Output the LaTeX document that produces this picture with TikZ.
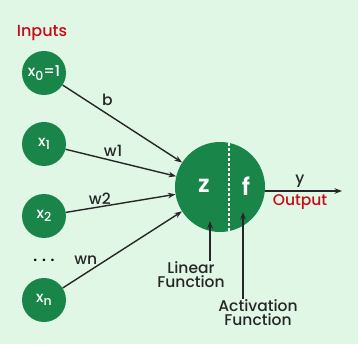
\documentclass[tikz,border=0pt]{standalone}
\usepackage{fontspec}
\setmainfont{Poppins Medium}[BoldFont={Poppins SemiBold}]
\usetikzlibrary{arrows.meta}
\definecolor{gfgreen}{RGB}{25,133,72}
\definecolor{mint}{RGB}{224,247,230}
\definecolor{labred}{RGB}{200,10,20}
\newcommand{\lowidx}[1]{\raisebox{-0.45ex}{\fontsize{12.5}{12.5}\selectfont #1}}
\tikzset{
  inp/.style={circle, fill=gfgreen, minimum size=44pt, inner sep=0pt, text=white, font=\fontsize{15}{16}\selectfont},
  wire/.style={-{Stealth[length=7.5pt,width=5.5pt]}, line width=1.4pt, draw=black!85},
  lbl/.style={font=\fontsize{15.5}{17}\selectfont, text=black!85}
}
\begin{document}
\begin{tikzpicture}[x=1pt, y=-1pt]
  \fill[mint] (0,0) rectangle (358,344);
  \useasboundingbox (0,0) rectangle (358,344);
  % inputs
  \node[labred, font=\fontsize{16}{18}\selectfont] (inputs) at (42,33) {Inputs};
  \node[inp] (x0) at (44,73) {x\lowidx{0}=1};
  \node[inp] (x1) at (44,144) {x\lowidx{1}};
  \node[inp] (x2) at (44,216) {x\lowidx{2}};
  \node[font=\bfseries\fontsize{15}{16}\selectfont] (dots) at (44,260) {. . .};
  \node[inp] (xn) at (44,300) {x\lowidx{n}};
  % neuron
  \node[circle, fill=gfgreen, minimum size=90pt, inner sep=0pt] (neuron) at (220,187) {};
  \draw[white, line width=1.2pt, dash pattern=on 3pt off 2pt] (229,143) -- (229,231);
  \node[text=white, font=\fontsize{24}{26}\selectfont\bfseries] (z) at (204,186) {z};
  \node[text=white, font=\fontsize{24}{26}\selectfont\bfseries] (f) at (246,186) {f};
  % weights
  \draw[wire] (x0) -- (neuron) node[lbl, pos=0.375, above=4pt] {b};
  \draw[wire] (x1) -- (neuron) node[lbl, pos=0.43, above=0pt] {w1};
  \draw[wire] (x2) -- (neuron) node[lbl, pos=0.31, above=-2pt] {w2};
  \draw[wire] (xn) -- (neuron) node[lbl, pos=0.34, left=2pt, yshift=2pt] {wn};
  % output
  \coordinate (out) at (342,191);
  \draw[wire] (neuron.east |- out) -- (out) node[lbl, pos=0.45, above=-1pt] {y};
  \node[labred, font=\fontsize{15.5}{17}\selectfont] (output) at (300,202) {Output};
  % function labels
  \node[lbl, align=center, inner sep=1pt] (linf) at (191,275) {Linear\\[-3pt]Function};
  \node[lbl, align=center, inner sep=1pt] (actf) at (258,313) {Activation\\[-3pt]Function};
  \draw[wire] (linf.north -| 210,0) -- (210,221);
  \draw[wire] (actf.north -| 243,0) -- (243,212);
\end{tikzpicture}
\end{document}
